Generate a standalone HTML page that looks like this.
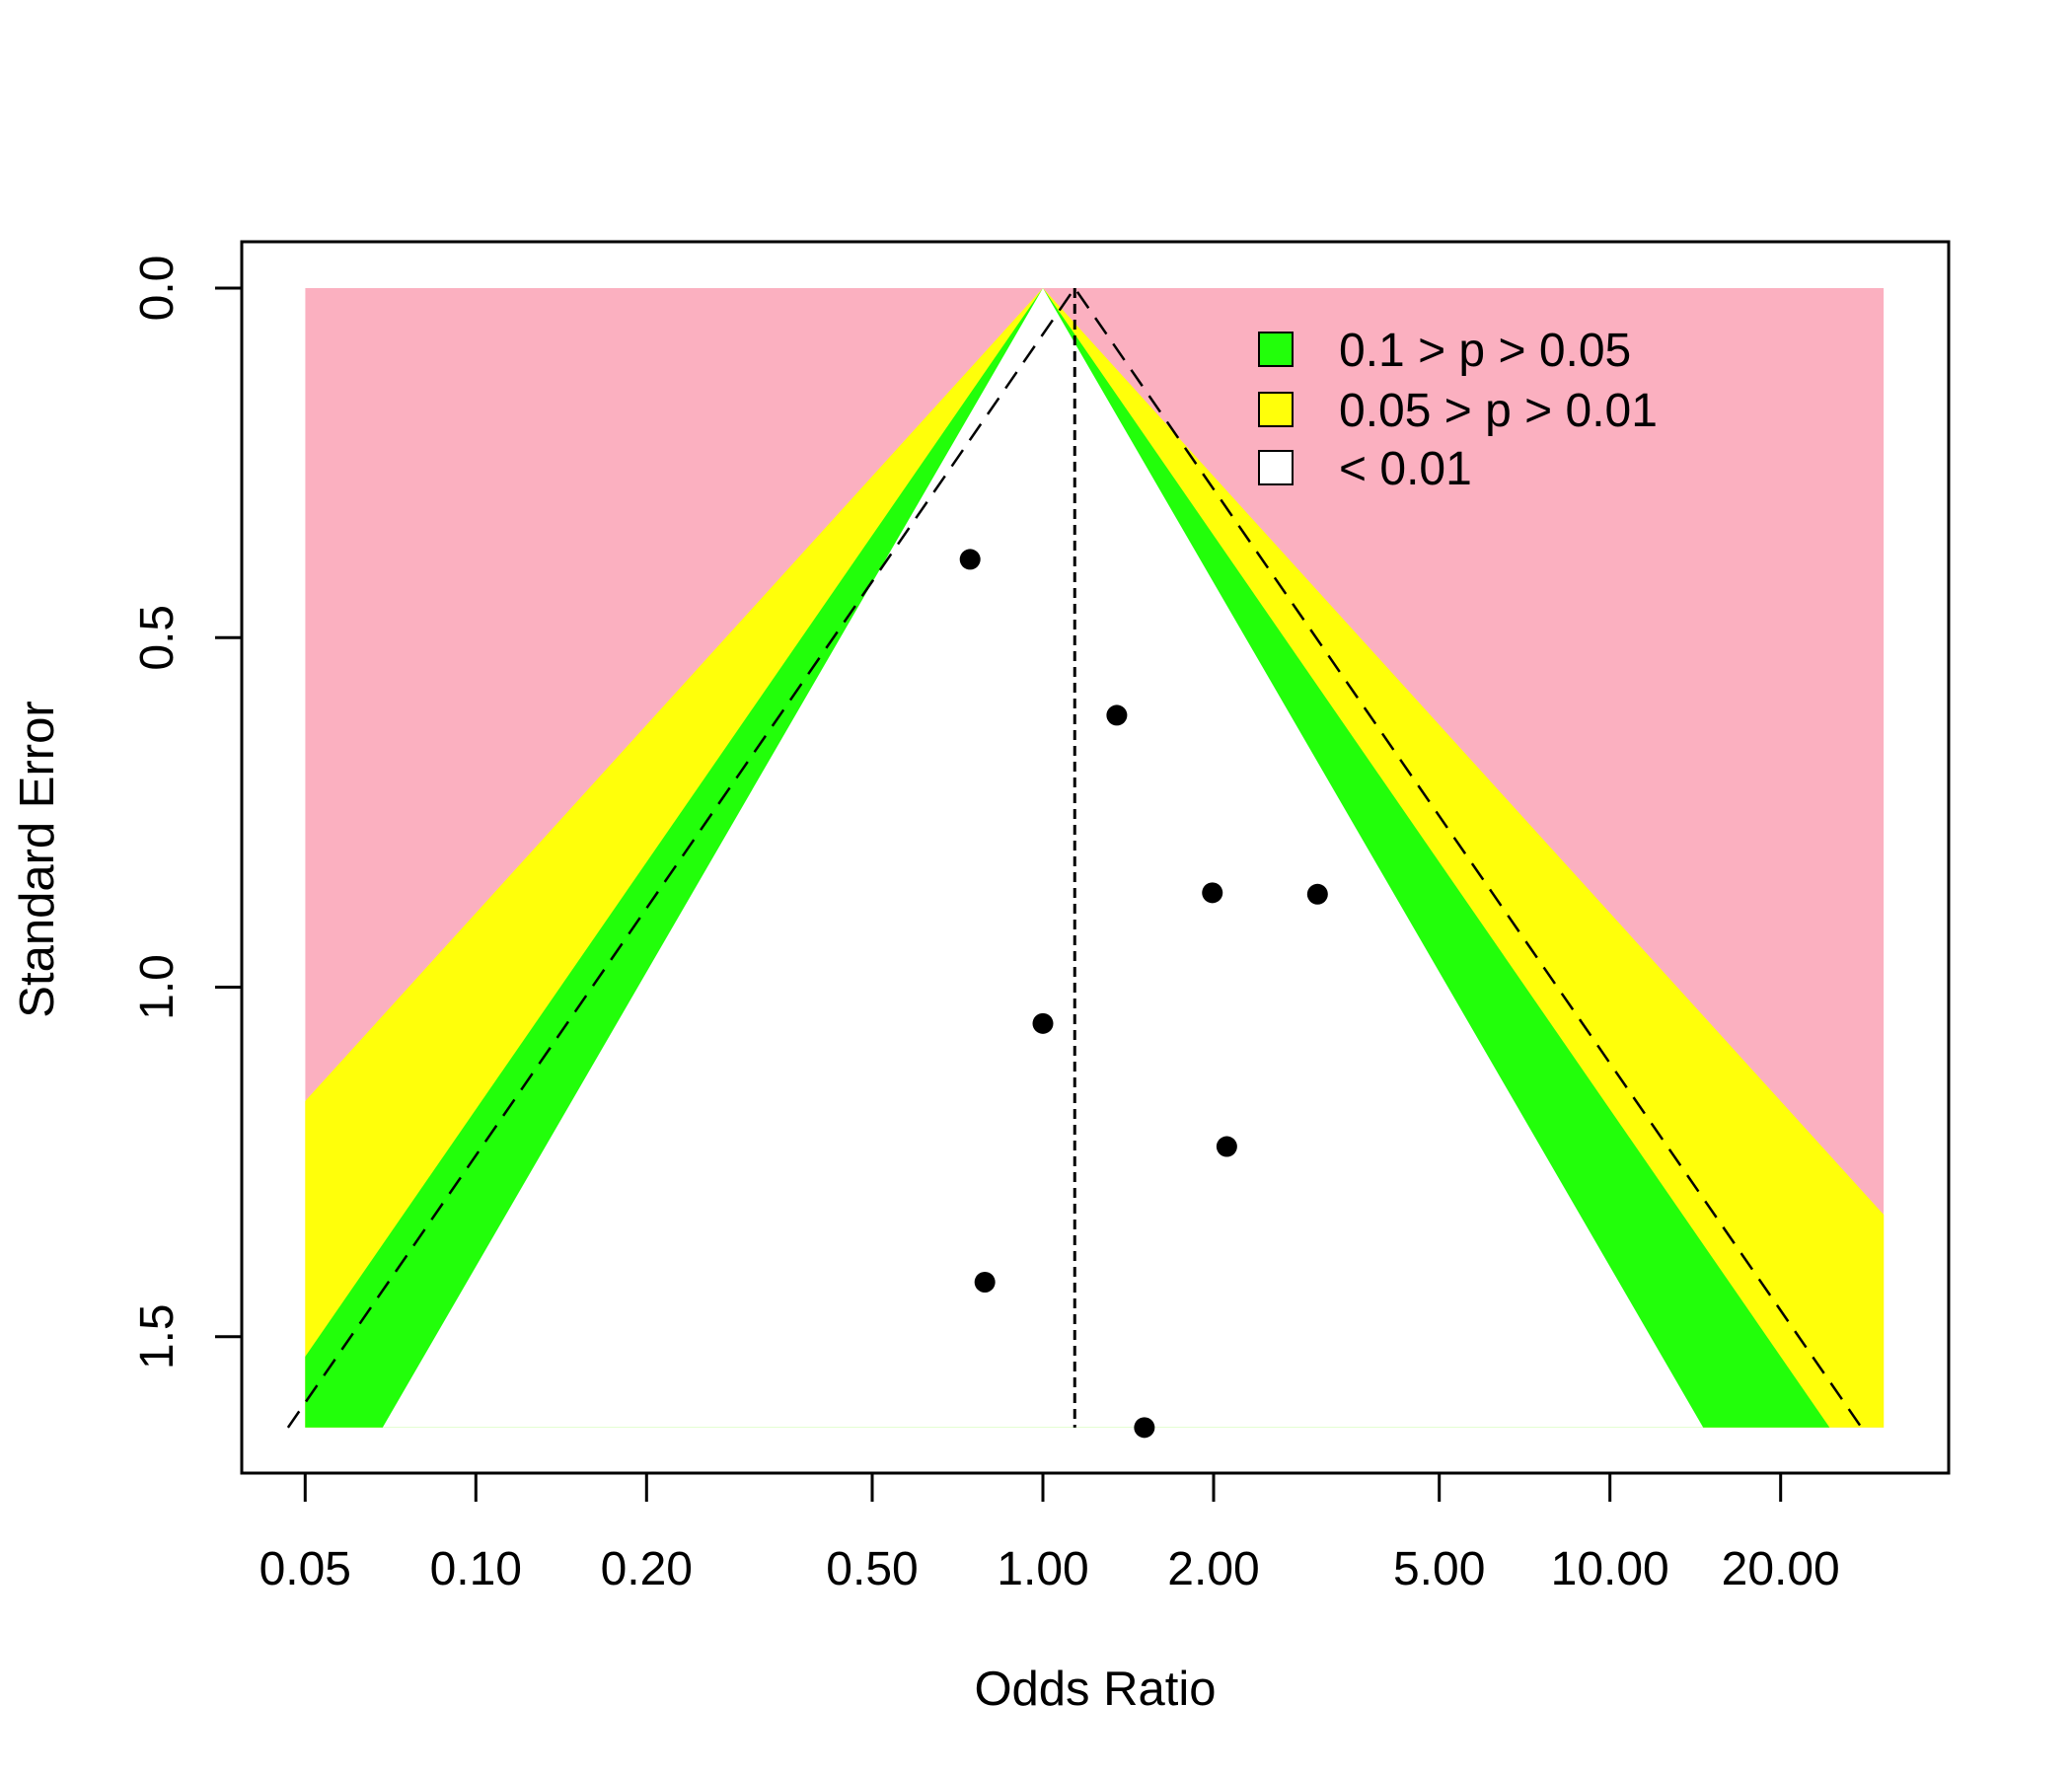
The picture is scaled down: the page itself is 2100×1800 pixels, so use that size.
<!DOCTYPE html>
<html><head><meta charset="utf-8"><style>html,body{margin:0;padding:0;background:#fff}svg{display:block}text{font-family:"Liberation Sans",sans-serif}</style></head>
<body>
<svg id="chart" width="2100" height="1800" viewBox="0 0 2100 1800" xmlns="http://www.w3.org/2000/svg">
<defs><clipPath id="clip"><rect id="cliprect" x="0" y="0" width="0" height="0"/></clipPath></defs>
<g id="regions" clip-path="url(#clip)"></g>
<g id="lines"></g>
<g id="points"></g>
<rect x="245" y="245" width="1730" height="1248" fill="none" stroke="#000" stroke-width="3"/>
<g id="axes"></g>
<g>
<rect x="1276" y="337" width="34" height="34" fill="#22ff0a" stroke="#000" stroke-width="2"/>
<text x="1357" y="371" font-size="48">0.1 &gt; p &gt; 0.05</text>
<rect x="1276" y="398" width="34" height="34" fill="#ffff0a" stroke="#000" stroke-width="2"/>
<text x="1357" y="432" font-size="48">0.05 &gt; p &gt; 0.01</text>
<rect x="1276" y="457" width="34" height="34" fill="#fff" stroke="#000" stroke-width="2"/>
<text x="1357" y="491" font-size="48">&lt; 0.01</text>
</g>
<text x="1110" y="1728" font-size="49" text-anchor="middle">Odds Ratio</text>
<text transform="translate(54,871) rotate(-90)" font-size="49" text-anchor="middle">Standard Error</text>
</svg>
<script>
const studyOR=[0.744,1.35,1.99,3.05,1.00,2.11,0.79,1.51];
const studySE=[0.388,0.611,0.865,0.867,1.052,1.228,1.422,1.630];
const xTicks=[0.05,0.1,0.2,0.5,1,2,5,10,20];
const xTickLabels=["0.05","0.10","0.20","0.50","1.00","2.00","5.00","10.00","20.00"];
const yTicks=[0,0.5,1.0,1.5];
const yTickLabels=["0.0","0.5","1.0","1.5"];
const pooledOR=[1.138];
const seMax=1.63, xMinOR=0.05, xMaxOR=30.4, refOR=1;
const zCuts=[1.645,1.96,2.576];

const NS="http://www.w3.org/2000/svg";
const X=v=>1057+Math.log10(v)*574.7;
const Y=s=>292+s*708.5;
function mk(tag,attrs,parent){const e=document.createElementNS(NS,tag);for(const k in attrs)e.setAttribute(k,attrs[k]);parent.appendChild(e);return e;}
const cr=document.getElementById('cliprect');
cr.setAttribute('x',X(xMinOR));cr.setAttribute('y',Y(0));
cr.setAttribute('width',X(xMaxOR)-X(xMinOR));cr.setAttribute('height',Y(seMax)-Y(0));
const reg=document.getElementById('regions');
const pink=mk('rect',{x:X(xMinOR),y:Y(0),width:X(xMaxOR)-X(xMinOR),height:Y(seMax)-Y(0),fill:'#fbb0c0'},reg);


const cols=['#ffffff','#22ff0a','#ffff0a'];
const names=['region-p-gt-0.1','region-green','region-yellow'];
for(let i=2;i>=0;i--){
 const z=zCuts[i],c=Math.log(refOR);
 const pts=[[X(refOR),Y(0)],[X(Math.exp(c+z*seMax)),Y(seMax)],[X(Math.exp(c-z*seMax)),Y(seMax)]];
 const p=mk('polygon',{points:pts.map(p=>p.join(',')).join(' '),fill:cols[i]},reg);
 
 
}
const lg=document.getElementById('lines');
const pc=Math.log(pooledOR[0]);
const f=mk('polyline',{points:`${X(Math.exp(pc-1.96*seMax))},${Y(seMax)} ${X(pooledOR[0])},${Y(0)} ${X(Math.exp(pc+1.96*seMax))},${Y(seMax)}`,fill:'none',stroke:'#000','stroke-width':2.5,'stroke-dasharray':'20,12'},lg);


const v=mk('line',{x1:X(pooledOR[0]),x2:X(pooledOR[0]),y1:Y(0),y2:Y(seMax),stroke:'#000','stroke-width':3,'stroke-dasharray':'10,6'},lg);


const pg=document.getElementById('points');
studyOR.forEach((o,i)=>{const c=mk('circle',{cx:X(o),cy:Y(studySE[i]),r:10.5,fill:'#000'},pg);

});
const ax=document.getElementById('axes');
mk('line',{x1:X(xTicks[0]),x2:X(xTicks[xTicks.length-1]),y1:1493,y2:1493,stroke:'#000','stroke-width':3},ax);
xTicks.forEach((t,i)=>{mk('line',{x1:X(t),x2:X(t),y1:1493,y2:1522,stroke:'#000','stroke-width':3},ax);
const tx=mk('text',{x:X(t),y:1606,'font-size':48,'text-anchor':'middle'},ax);tx.textContent=xTickLabels[i];

});
yTicks.forEach((t,i)=>{mk('line',{x1:245,x2:218,y1:Y(t),y2:Y(t),stroke:'#000','stroke-width':3},ax);
const tx=mk('text',{transform:`translate(175,${Y(t)}) rotate(-90)`,'font-size':48,'text-anchor':'middle'},ax);tx.textContent=yTickLabels[i];

});
</script>
</body></html>
